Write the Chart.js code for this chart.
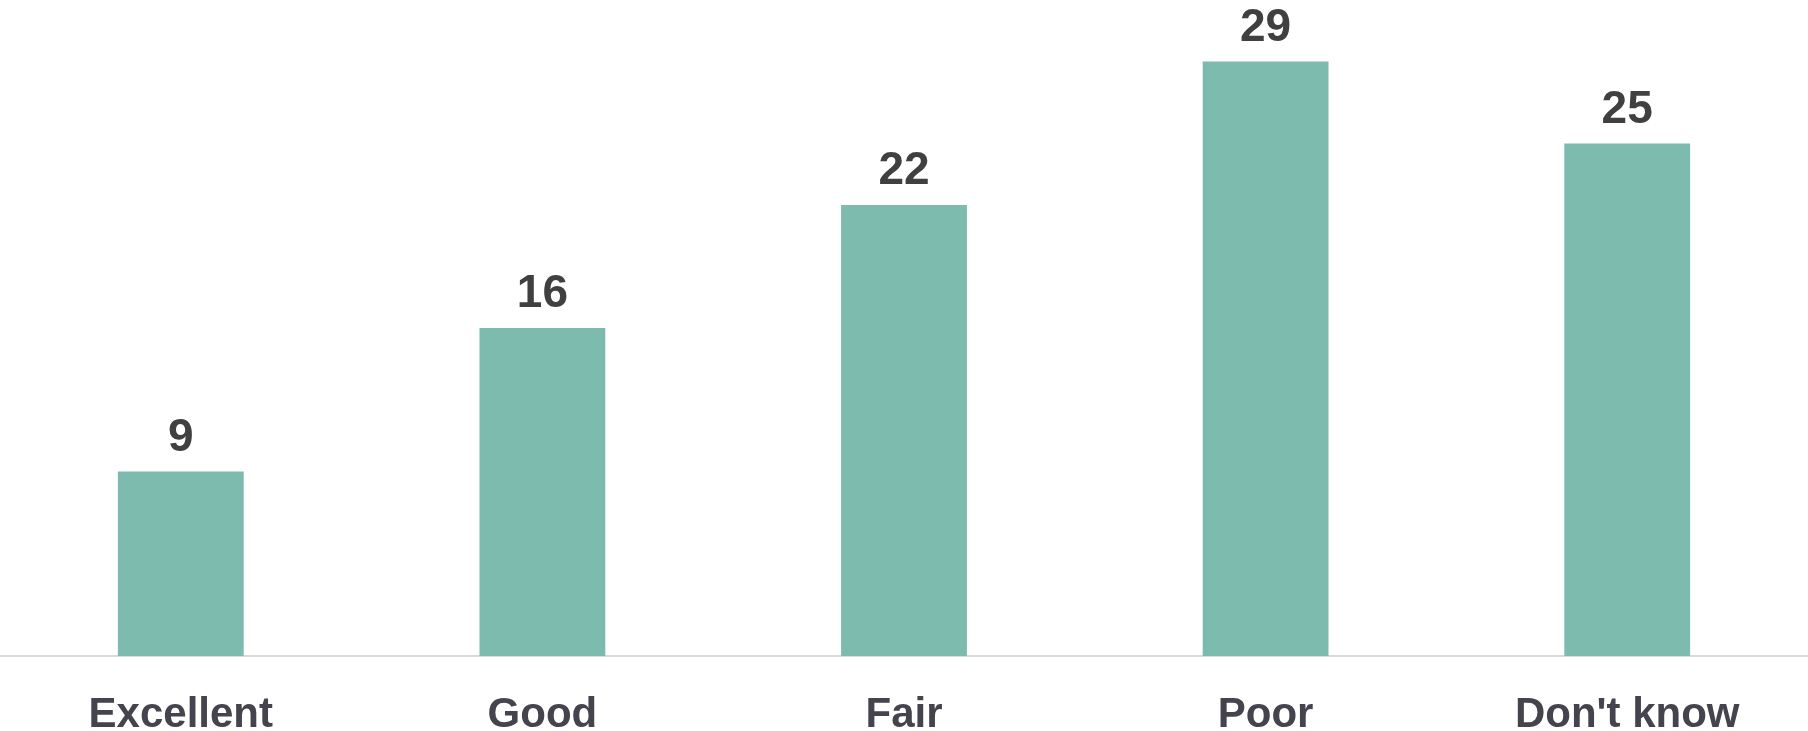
<!DOCTYPE html>
<html>
<head>
<meta charset="utf-8">
<script src="https://cdn.jsdelivr.net/npm/chart.js"></script>
<style>
  html, body { margin: 0; padding: 0; background: #ffffff; }
  #wrap { width: 1808px; height: 731px; }
</style>
</head>
<body>
<div id="wrap"><canvas id="ratingChart" width="1808" height="731"></canvas></div>
<script>
// chart data
const categories = ['Excellent', 'Good', 'Fair', 'Poor', "Don't know"];
const percentValues = [9, 16, 22, 29, 25];

const BAR_COLOR = '#7dbbaf';
const VALUE_COLOR = '#404040';
const LABEL_COLOR = '#45434e';
const FONT_FAMILY = '"Liberation Sans", Arial, sans-serif';

// draws the number above each bar
const valueLabels = {
    id: 'valueLabels',
    afterDatasetsDraw(chart) {
        const ctx = chart.ctx;
        const meta = chart.getDatasetMeta(0);
        ctx.save();
        ctx.font = 'bold 46px ' + FONT_FAMILY;
        ctx.fillStyle = VALUE_COLOR;
        ctx.textAlign = 'center';
        ctx.textBaseline = 'alphabetic';
        meta.data.forEach((bar, i) => {
            ctx.fillText(String(percentValues[i]), bar.x, bar.y - 21);
        });
        ctx.restore();
    }
};

new Chart(document.getElementById('ratingChart'), {
    type: 'bar',
    data: {
        labels: categories,
        datasets: [{
            data: percentValues,
            backgroundColor: BAR_COLOR,
            borderWidth: 0,
            categoryPercentage: 1,
            barPercentage: 0.348
        }]
    },
    options: {
        responsive: false,
        animation: false,
        devicePixelRatio: 1,
        layout: { padding: 0 },
        plugins: {
            legend: { display: false },
            tooltip: { enabled: false }
        },
        scales: {
            x: {
                grid: { display: false, drawTicks: false },
                border: { display: true, color: '#d9d9d9', width: 2 },
                ticks: {
                    color: LABEL_COLOR,
                    padding: 34,
                    maxRotation: 0,
                    font: { family: FONT_FAMILY, size: 42, weight: 'bold' }
                },
                // fixed axis band height so the baseline sits where the original has it
                afterFit(scale) { scale.height = 75; }
            },
            y: {
                display: false,
                min: 0,
                max: 32
            }
        }
    },
    plugins: [valueLabels]
});
</script>
</body>
</html>
